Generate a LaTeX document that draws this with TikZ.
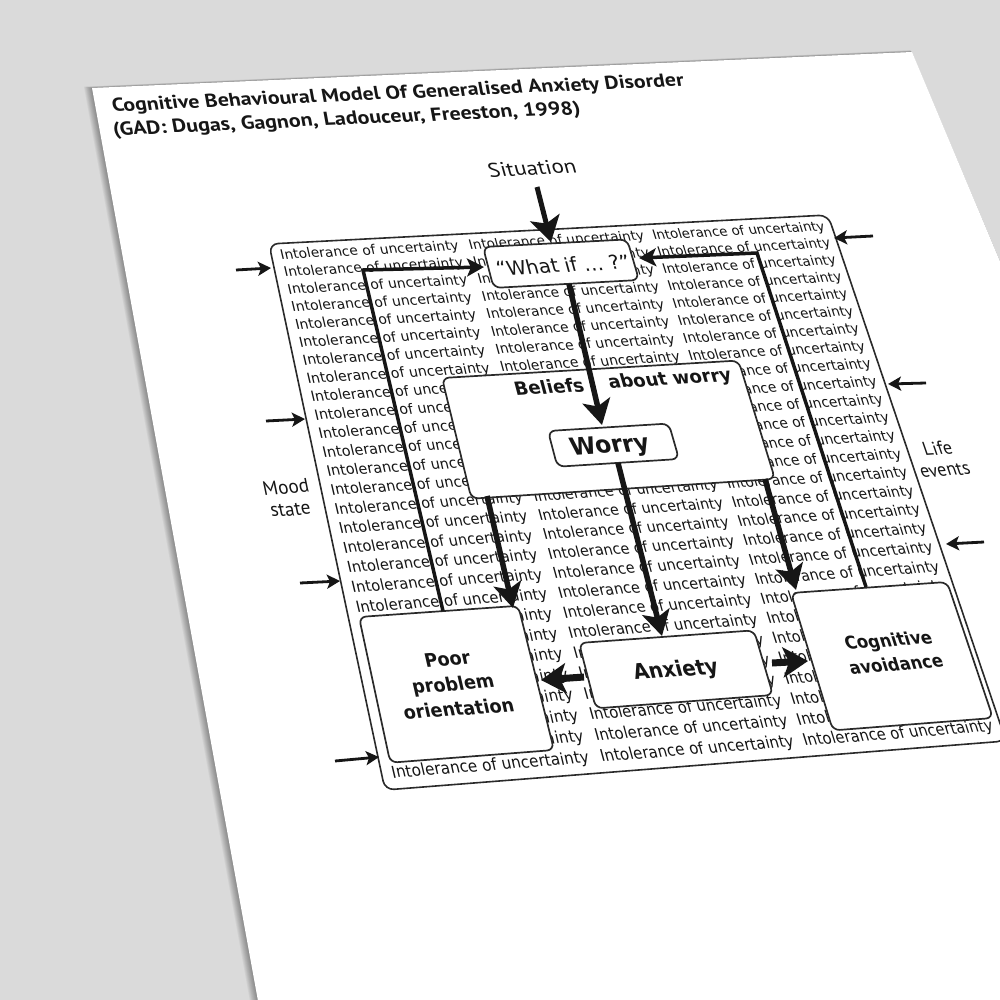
\documentclass[tikz,border=0pt]{standalone}
\usepackage{fontspec}
\usepackage{xfp}
\setmainfont{DejaVu Sans}
\newfontfamily\ptsans{PT Sans}
\usetikzlibrary{arrows.meta}
\definecolor{bggray}{HTML}{DADADA}
\definecolor{ink}{HTML}{161616}
\definecolor{boxline}{HTML}{2A2A2A}
% projective map: frame unit square (s,t) -> image pixels (x right, y down)
\def\Pa{582.163}\def\Pb{74.475}\def\Pc{269}\def\Pd{-22.985}
\def\Pe{460.792}\def\Pf{244}\def\Pg{0.027975}\def\Ph{-0.107858}
\def\Wf{587}\def\Hf{520}
\edef\pjA{\fpeval{(\Pe)-(\Pf)*(\Ph)}}
\edef\pjB{\fpeval{(\Pc)*(\Ph)-(\Pb)}}
\edef\pjC{\fpeval{(\Pb)*(\Pf)-(\Pc)*(\Pe)}}
\edef\pjD{\fpeval{(\Pf)*(\Pg)-(\Pd)}}
\edef\pjE{\fpeval{(\Pa)-(\Pc)*(\Pg)}}
\edef\pjF{\fpeval{(\Pc)*(\Pd)-(\Pa)*(\Pf)}}
\edef\pjG{\fpeval{(\Pd)*(\Ph)-(\Pe)*(\Pg)}}
\edef\pjH{\fpeval{(\Pb)*(\Pg)-(\Pa)*(\Ph)}}
\edef\pjI{\fpeval{(\Pa)*(\Pe)-(\Pb)*(\Pd)}}
\newcommand\pjXY[2]{%
  \edef\pjden{\fpeval{(\pjG)*(#1)+(\pjH)*(#2)+(\pjI)}}%
  \edef\pjs{\fpeval{((\pjA)*(#1)+(\pjB)*(#2)+(\pjC))/(\pjden)}}%
  \edef\pjt{\fpeval{((\pjD)*(#1)+(\pjE)*(#2)+(\pjF))/(\pjden)}}%
}
\newcommand\pjP[2]{%
  \edef\pjDn{\fpeval{1+(\Pg)*(#1)+(\Ph)*(#2)}}%
  \edef\pjX{\fpeval{round(((\Pa)*(#1)+(\Pb)*(#2)+(\Pc))/(\pjDn),3)}}%
  \edef\pjY{\fpeval{round(-((\Pd)*(#1)+(\Pe)*(#2)+(\Pf))/(\pjDn),3)}}%
}
\newcommand\pjST[2]{%
  \edef\pjDn{\fpeval{1+(\Pg)*(#1)+(\Ph)*(#2)}}%
  \edef\pjXi{\fpeval{((\Pa)*(#1)+(\Pb)*(#2)+(\Pc))/(\pjDn)}}%
  \edef\pjYi{\fpeval{((\Pd)*(#1)+(\Pe)*(#2)+(\Pf))/(\pjDn)}}%
  \edef\pjca{\fpeval{round(((\Pa)-(\Pg)*(\pjXi))/(\pjDn)/(\Wf),5)}}%
  \edef\pjcb{\fpeval{round(-((\Pd)-(\Pg)*(\pjYi))/(\pjDn)/(\Wf),5)}}%
  \edef\pjcc{\fpeval{round(-((\Pb)-(\Ph)*(\pjXi))/(\pjDn)/(\Hf),5)}}%
  \edef\pjcd{\fpeval{round(((\Pe)-(\Ph)*(\pjYi))/(\pjDn)/(\Hf),5)}}%
  \edef\pjX{\fpeval{round(\pjXi,3)}}%
  \edef\pjY{\fpeval{round(-(\pjYi),3)}}%
}
% text in perspective, by frame coords or by image coords
\newcommand\gtxt[4][]{\pjST{#2}{#3}%
  \path[cm={\pjca,\pjcb,\pjcc,\pjcd,(\pjX,\pjY)}] (0,0) node[transform shape,#1] {#4};}
\newcommand\itxt[4][]{\pjXY{#2}{#3}\gtxt[#1]{\pjs}{\pjt}{#4}}
% box in perspective from image TL and BR corners
\newcommand\pbox[6][]{%
  \pjXY{#3}{#4}\let\pbsa\pjs\let\pbta\pjt
  \pjXY{#5}{#6}\let\pbsb\pjs\let\pbtb\pjt
  \pjP{\pbsa}{\pbta}\coordinate (#2-tl) at (\pjX,\pjY);
  \pjP{\pbsb}{\pbta}\coordinate (#2-tr) at (\pjX,\pjY);
  \pjP{\pbsb}{\pbtb}\coordinate (#2-br) at (\pjX,\pjY);
  \pjP{\pbsa}{\pbtb}\coordinate (#2-bl) at (\pjX,\pjY);
  \draw[boxstyle,#1] (#2-tl) -- (#2-tr) -- (#2-br) -- (#2-bl) -- cycle;}
\newcommand\ipt[3]{\coordinate (#1) at (#2,-#3);}
\tikzset{
  framestyle/.style={draw=boxline, line width=1.6pt, rounded corners=9pt},
  boxstyle/.style={draw=boxline, line width=1.7pt, fill=white, rounded corners=7pt},
  rowtxt/.style={inner sep=0pt, text=ink, font=\fontsize{14.1}{16}\selectfont},
  boxtxt/.style={inner sep=0pt, text=ink, align=center, font=\bfseries\fontsize{16.5}{22}\selectfont},
  lbltxt/.style={inner sep=0pt, text=ink, align=center, font=\ptsans\fontsize{18.5}{21}\selectfont},
  thickarrow/.style={draw=ink, line width=5.5pt, -{Stealth[length=25pt,width=28pt,inset=6pt]}},
  sidearrow/.style={draw=ink, line width=7pt, -{Stealth[length=25pt,width=30pt,inset=6pt]}},
  loopline/.style={draw=ink, line width=3.5pt, line join=miter, -{Stealth[length=17pt,width=18pt,inset=4pt]}},
  inarrow/.style={draw=ink, line width=2.8pt, -{Stealth[length=13pt,width=14pt,inset=3pt]}},
}
\begin{document}
\begin{tikzpicture}[x=1pt,y=1pt]
\useasboundingbox (0,0) rectangle (1000,-1000);
\clip (0,0) rectangle (1000,-1000);
\fill[bggray] (0,0) rectangle (1000,-1000);
% paper shadow and paper
\foreach \k in {1,...,9}{
  \fill[black,opacity=0.045] (92-0.9*\k,-88+0.15*\k) -- (912-0.2*\k,-52+0.2*\k) -- (1012,-290) -- (1012,-1012) -- (260-0.9*\k,-1012) -- cycle;}
\fill[white] (92,-88) -- (912,-52) -- (1012,-290) -- (1012,-1012) -- (260,-1012) -- cycle;
% outer frame
\pjP{0}{0}\coordinate (frtl) at (\pjX,\pjY);
\pjP{1}{0}\coordinate (frtr) at (\pjX,\pjY);
\pjP{1}{1}\coordinate (frbr) at (\pjX,\pjY);
\pjP{0}{1}\coordinate (frbl) at (\pjX,\pjY);
\draw[framestyle] (frtl) -- (frtr) -- (frbr) -- (frbl) -- cycle;
% grid of background text
\pjXY{370}{251}\let\sAa\pjs\let\tZero\pjt
\pjXY{490}{766}\let\sAb\pjs\let\tLast\pjt
\pjXY{556}{243}\let\sBa\pjs
\pjXY{699}{752}\let\sBb\pjs
\pjXY{735}{230}\let\sCa\pjs
\pjXY{903}{738}\let\sCb\pjs
\edef\sA{\fpeval{(\sAa+\sAb)/2}}
\edef\sB{\fpeval{(\sBa+\sBb)/2}}
\edef\sC{\fpeval{(\sCa+\sCb)/2}}
\edef\dT{\fpeval{(\tLast-\tZero)/27}}
\foreach \k in {0,...,27}{
  \edef\tk{\fpeval{\tZero+\k*\dT}}
  \gtxt[rowtxt,name=iua\k]{\sA}{\tk}{Intolerance of uncertainty}
  \gtxt[rowtxt,name=iub\k]{\sB}{\tk}{Intolerance of uncertainty}
  \gtxt[rowtxt,name=iuc\k]{\sC}{\tk}{Intolerance of uncertainty}
}
% boxes
\pbox{bel}{442}{378}{775}{479}
\pbox{wif}{483}{247}{639}{280}
\pbox{wor}{548}{431}{679}{459}
\pbox{poor}{359}{617}{554}{750}
\pbox{anx}{579}{643}{773}{695}
\pbox{cog}{791}{593}{993}{718}
% box texts
\itxt[name=twif,inner sep=0pt,text=ink,font=\fontsize{20.5}{22}\selectfont]{563}{265}{“What if … ?”}
\itxt[name=tbel1,boxtxt,font=\bfseries\fontsize{18.3}{20}\selectfont]{549}{387}{Beliefs}
\itxt[name=tbel2,boxtxt,font=\bfseries\fontsize{18.3}{20}\selectfont]{670}{380}{about worry}
\itxt[name=twor,boxtxt,font=\bfseries\fontsize{23.3}{26}\selectfont]{610}{447}{Worry}
\itxt[name=tanx,boxtxt,font=\bfseries\fontsize{19}{22}\selectfont]{676}{671}{Anxiety}
\itxt[name=tpoor,boxtxt]{453}{684}{Poor\\problem\\orientation}
\itxt[name=tcog,boxtxt,font=\bfseries\fontsize{16}{22}\selectfont]{892}{652}{Cognitive\\avoidance}
% connectors
\ipt{sitA}{537}{187}\ipt{sitB}{551}{242}
\draw[draw=ink,line width=5pt,-{Stealth[length=25pt,width=30pt,inset=6pt]}] (sitA) -- (sitB);
\ipt{ww1}{569}{284}\ipt{ww2}{602}{425}
\draw[thickarrow] (ww1) -- (ww2);
\ipt{ll1}{443}{611}\ipt{ll2}{363}{270}\ipt{ll3}{484}{267}
\draw[loopline] (ll1) -- (ll2) -- (ll3);
\ipt{rl1}{866}{587}\ipt{rl2}{757}{253}\ipt{rl3}{639}{258}
\draw[loopline] (rl1) -- (rl2) -- (rl3);
\ipt{bp1}{487}{496}\ipt{bp2}{513}{608}
\draw[thickarrow] (bp1) -- (bp2);
\ipt{wa1}{618}{463}\ipt{wa2}{662}{636}
\draw[thickarrow] (wa1) -- (wa2);
\ipt{bc1}{765}{479}\ipt{bc2}{796}{590}
\draw[thickarrow] (bc1) -- (bc2);
\ipt{ap1}{584}{677}\ipt{ap2}{541}{680}
\draw[sidearrow] (ap1) -- (ap2);
\ipt{ac1}{772}{663}\ipt{ac2}{808}{661}
\draw[sidearrow] (ac1) -- (ac2);
% incoming arrows
\ipt{l1a}{236}{270}\ipt{l1b}{271}{268}\draw[inarrow] (l1a) -- (l1b);
\ipt{l2a}{266}{421}\ipt{l2b}{305}{419}\draw[inarrow] (l2a) -- (l2b);
\ipt{l3a}{300}{583}\ipt{l3b}{340}{581}\draw[inarrow] (l3a) -- (l3b);
\ipt{l4a}{335}{761}\ipt{l4b}{379}{757}\draw[inarrow] (l4a) -- (l4b);
\ipt{r1a}{873}{236}\ipt{r1b}{834}{238}\draw[inarrow] (r1a) -- (r1b);
\ipt{r2a}{926}{383}\ipt{r2b}{888}{384}\draw[inarrow] (r2a) -- (r2b);
\ipt{r3a}{984}{542}\ipt{r3b}{946}{544}\draw[inarrow] (r3a) -- (r3b);
% labels
\itxt[name=tsit,lbltxt,xscale=1.1,font=\ptsans\fontsize{22}{24}\selectfont]{532}{168}{Situation}
\itxt[name=tmood,lbltxt]{288}{498}{Mood\\state}
\itxt[name=tlife,lbltxt]{941}{459}{Life\\events}
\itxt[name=title1,anchor=west,inner sep=0pt,text=ink,xscale=1.08,font=\ptsans\bfseries\fontsize{21}{24}\selectfont]{112}{107}{Cognitive Behavioural Model Of Generalised Anxiety Disorder}
\itxt[name=title2,anchor=west,inner sep=0pt,text=ink,xscale=1.08,font=\ptsans\bfseries\fontsize{21}{24}\selectfont]{113}{131}{(GAD: Dugas, Gagnon, Ladouceur, Freeston, 1998)}
\end{tikzpicture}
\end{document}
